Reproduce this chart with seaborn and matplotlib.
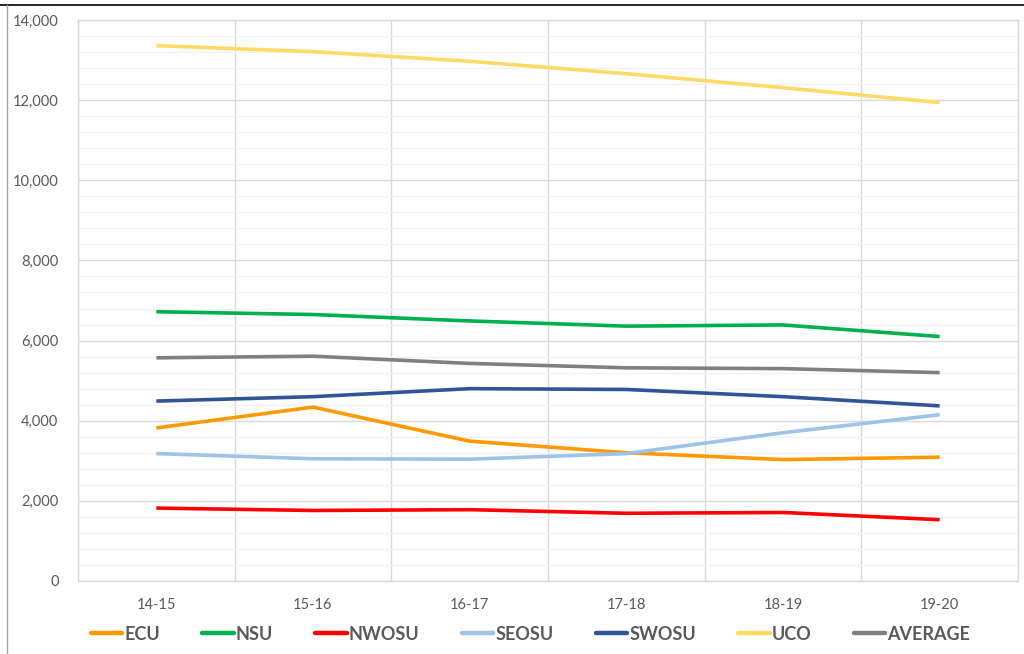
import numpy as np
import pandas as pd
import matplotlib
matplotlib.use("Agg")
import matplotlib.pyplot as plt
import seaborn as sns
from matplotlib.lines import Line2D
from matplotlib.ticker import FuncFormatter, MultipleLocator

# school years on the x axis
years = ["14-15", "15-16", "16-17", "17-18", "18-19", "19-20"]

# enrollment per university
ecu = [3820, 4340, 3490, 3200, 3030, 3090]
nsu = [6720, 6650, 6490, 6360, 6390, 6100]
nwosu = [1820, 1760, 1780, 1690, 1710, 1530]
seosu = [3180, 3050, 3040, 3180, 3700, 4150]
swosu = [4490, 4600, 4800, 4780, 4600, 4370]
uco = [13360, 13210, 12970, 12660, 12310, 11940]
average = [5570, 5610, 5430, 5320, 5300, 5200]

series = ["ECU", "NSU", "NWOSU", "SEOSU", "SWOSU", "UCO", "AVERAGE"]
colors = ["#FF9900", "#00B050", "#FF0000", "#9DC3E6", "#2F5597", "#FFD966", "#808080"]

df = pd.DataFrame({"ECU": ecu, "NSU": nsu, "NWOSU": nwosu, "SEOSU": seosu,
                   "SWOSU": swosu, "UCO": uco, "AVERAGE": average}, index=years)
long = df.reset_index(names="Year").melt(id_vars="Year", var_name="School", value_name="Enrollment")
long["x"] = long["Year"].map({y: i for i, y in enumerate(years)})

sns.set_theme(style="white")
plt.rcParams["font.family"] = ["Lato", "DejaVu Sans"]

fig = plt.figure(figsize=(10.24, 6.54), dpi=100)
ax = fig.add_axes([78 / 1024, 1 - 581 / 654, (1018 - 78) / 1024, (581 - 20) / 654])

sns.lineplot(data=long, x="x", y="Enrollment", hue="School", hue_order=series,
             palette=dict(zip(series, colors)), linewidth=2.6, ax=ax, legend=False,
             solid_capstyle="butt")

ax.set_xlim(-0.5, len(years) - 0.5)
ax.set_ylim(0, 14000)
ax.set_xticks(range(len(years)))
ax.set_xticklabels(years)
ax.xaxis.set_minor_locator(MultipleLocator(1, offset=0.5))
ax.yaxis.set_major_locator(MultipleLocator(2000))
ax.yaxis.set_minor_locator(MultipleLocator(400))
ax.yaxis.set_major_formatter(FuncFormatter(lambda v, p: f"{int(v):,}"))

ax.grid(False)
ax.grid(axis="y", which="major", color="#D9D9D9", linewidth=1.0, zorder=0)
ax.grid(axis="y", which="minor", color="#F2F2F2", linewidth=1.0, zorder=0)
ax.grid(axis="x", which="minor", color="#D9D9D9", linewidth=1.0, zorder=0)
ax.set_axisbelow(True)
for s in ax.spines.values():
    s.set_color("#D9D9D9")
    s.set_linewidth(1.0)

ax.tick_params(axis="both", which="both", length=0, labelsize=10.5, labelcolor="#595959")
ax.tick_params(axis="x", pad=12)
ax.tick_params(axis="y", pad=14)
ax.set_xlabel("")
ax.set_ylabel("")

handles = [Line2D([], [], color=c, linewidth=3.2) for c in colors]
leg = fig.legend(handles, series, loc="center", bbox_to_anchor=(0.518, 1 - 634 / 654),
                 ncol=7, frameon=False, handlelength=1.75, handletextpad=0.1,
                 columnspacing=2.35, prop={"weight": "bold", "size": 13})
for t in leg.get_texts():
    t.set_color("#595959")

# screenshot frame edges
fig.add_artist(Line2D([0, 1], [1 - 5 / 654, 1 - 5 / 654], color="black", linewidth=1.2))
fig.add_artist(Line2D([7 / 1024, 7 / 1024], [0, 1 - 5 / 654], color="#A6A6A6", linewidth=1.0))

fig.savefig("out.png", dpi=100)
